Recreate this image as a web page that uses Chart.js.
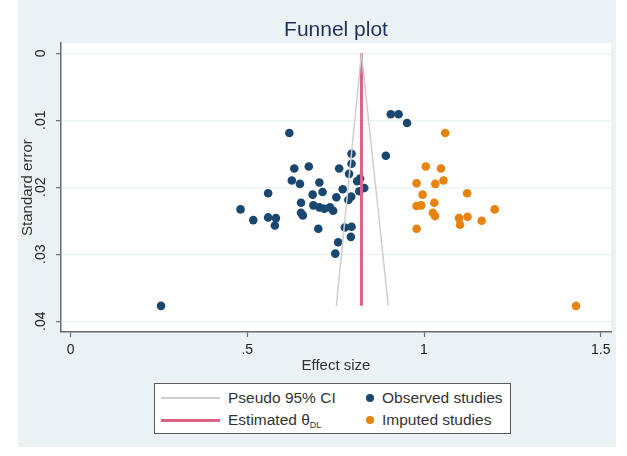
<!DOCTYPE html>
<html>
<head>
<meta charset="utf-8">
<script src="https://cdn.jsdelivr.net/npm/chart.js@4.4.1/dist/chart.umd.min.js"></script>
<style>
body { margin: 0; background: #fff; }
#wrap { position: relative; width: 627px; height: 456px; }
#bg { position: absolute; left: 18px; top: 0; width: 598px; height: 447px; background: #eaf2f3; }
#funnelChart { position: absolute; left: 0; top: 0; }
#legend {
    position: absolute; left: 154px; top: 383px; width: 357px; height: 51px;
    box-sizing: border-box; background: #fff; border: 1.5px solid #5a5a5a;
    font: 15.5px "Liberation Sans", Arial, sans-serif; color: #333;
}
.mark-line { position: absolute; left: 6px; width: 59px; }
.mark-dot { position: absolute; width: 8px; height: 8px; border-radius: 50%; }
.txt { position: absolute; white-space: nowrap; line-height: 18px; }
sub { font-size: 9px; vertical-align: -3px; line-height: 0; }
</style>
</head>
<body>
<div id="wrap">
    <div id="bg"></div>
    <canvas id="funnelChart" width="627" height="456"></canvas>
    <div id="legend">
        <div class="mark-line" style="top:13px;height:2px;background:#cfcfcf"></div>
        <div class="txt" style="left:73px;top:5px">Pseudo 95% CI</div>
        <div class="mark-line" style="top:35px;height:2.5px;background:#dc6384"></div>
        <div class="txt" style="left:73px;top:27px">Estimated θ<sub>DL</sub></div>
        <div class="mark-dot" style="left:211px;top:10px;background:#1a476f"></div>
        <div class="txt" style="left:227px;top:5px">Observed studies</div>
        <div class="mark-dot" style="left:211px;top:32px;background:#e8830f"></div>
        <div class="txt" style="left:227px;top:27px">Imputed studies</div>
    </div>
</div>
<script>
// values
const observedEffect = [0.619, 0.633, 0.674, 0.626, 0.649, 0.559, 0.652, 0.481, 0.517, 0.559, 0.581, 0.578, 0.652, 0.657,
    0.906, 0.928, 0.952, 0.892, 0.795, 0.795, 0.760, 0.788, 0.819, 0.811, 0.831, 0.817, 0.704, 0.713, 0.685, 0.770,
    0.752, 0.794, 0.786, 0.687, 0.704, 0.718, 0.734, 0.743, 0.701, 0.776, 0.795, 0.793, 0.757, 0.749, 0.256];
const observedSE = [0.0119, 0.0172, 0.0169, 0.0190, 0.0195, 0.0209, 0.0223, 0.0233, 0.0249, 0.0245, 0.0246, 0.0257, 0.0238, 0.0242,
    0.0091, 0.0091, 0.0104, 0.0153, 0.0150, 0.0165, 0.0172, 0.0180, 0.0187, 0.0191, 0.0201, 0.0206, 0.0193, 0.0207, 0.0211, 0.0203,
    0.0215, 0.0214, 0.0219, 0.0227, 0.0230, 0.0232, 0.0230, 0.0235, 0.0262, 0.0260, 0.0259, 0.0274, 0.0282, 0.0299, 0.0377];

const imputedEffect = [1.060, 1.005, 1.048, 1.055, 1.032, 0.979, 0.996, 1.122, 0.979, 0.992, 1.029, 1.025, 1.031, 1.200,
    1.099, 1.123, 1.102, 1.163, 0.979, 1.430];
const imputedSE = [0.0119, 0.0169, 0.0172, 0.0190, 0.0195, 0.0194, 0.0211, 0.0209, 0.0228, 0.0227, 0.0223, 0.0238, 0.0243, 0.0233,
    0.0246, 0.0244, 0.0256, 0.0250, 0.0262, 0.0377];

// funnel: apex and bottom ends
const lineSE = [0, 0.0377];
const thetaEffect = [0.823, 0.823];
const ciLowEffect = [0.823, 0.752];
const ciHighEffect = [0.823, 0.899];

const xTicks = [0, 0.5, 1, 1.5];
const xTickLabels = ['0', '.5', '1', '1.5'];
const yTicks = [0, 0.01, 0.02, 0.03, 0.04];
const yTickLabels = ['0', '.01', '.02', '.03', '.04'];

const toPoints = (xs, ys) => xs.map((x, i) => ({x: x, y: ys[i]}));

const plotBackground = {
    id: 'plotBackground',
    beforeDraw(chart) {
        const {ctx, chartArea} = chart;
        ctx.save();
        ctx.fillStyle = '#fff';
        ctx.fillRect(chartArea.left, chartArea.top, chartArea.right - chartArea.left, chartArea.bottom - chartArea.top);
        ctx.restore();
    }
};

const axisColor = '#6b6b6b';
Chart.defaults.font.family = '"Liberation Sans", Arial, sans-serif';

const funnelChart = new Chart(document.getElementById('funnelChart'), {
    type: 'scatter',
    data: {
        datasets: [
            {
                label: 'Pseudo 95% CI',
                data: toPoints(ciLowEffect, lineSE),
                showLine: true, borderColor: '#cfcfcf', borderWidth: 1.5, pointRadius: 0, order: 0
            },
            {
                label: 'Pseudo 95% CI',
                data: toPoints(ciHighEffect, lineSE),
                showLine: true, borderColor: '#cfcfcf', borderWidth: 1.5, pointRadius: 0, order: 0
            },
            {
                label: 'Estimated θDL',
                data: toPoints(thetaEffect, lineSE),
                showLine: true, borderColor: '#dc6384', borderWidth: 3, pointRadius: 0, order: 0
            },
            {
                label: 'Observed studies',
                data: toPoints(observedEffect, observedSE),
                backgroundColor: '#1a476f', borderWidth: 0, pointRadius: 4.3, order: 1
            },
            {
                label: 'Imputed studies',
                data: toPoints(imputedEffect, imputedSE),
                backgroundColor: '#e8830f', borderWidth: 0, pointRadius: 4.3, order: 1
            }
        ]
    },
    options: {
        responsive: false,
        animation: false,
        layout: {padding: {left: 18, right: 16, top: 0, bottom: 81}},
        plugins: {
            legend: {display: false},
            tooltip: {enabled: false},
            title: {
                display: true,
                text: 'Funnel plot',
                fullSize: false,
                color: '#1f2f5c',
                font: {size: 21, weight: 'normal'},
                padding: {top: 18, bottom: 0}
            }
        },
        scales: {
            x: {
                type: 'linear',
                min: -0.027,
                max: 1.529,
                afterBuildTicks: (scale) => { scale.ticks = xTicks.map(v => ({value: v})); },
                afterFit: (scale) => { scale.height = 43; },
                grid: {drawOnChartArea: false, tickLength: 5, tickColor: axisColor, tickWidth: 1.2},
                border: {color: axisColor, width: 1.5},
                ticks: {
                    callback: (v, i) => xTickLabels[i],
                    font: {size: 14}, color: '#222', padding: 5, maxRotation: 0
                },
                title: {display: true, text: 'Effect size', font: {size: 15}, color: '#333', padding: {top: 0, bottom: 0}}
            },
            y: {
                type: 'linear',
                reverse: true,
                min: -0.0015,
                max: 0.0416,
                afterBuildTicks: (scale) => { scale.ticks = yTicks.map(v => ({value: v})); },
                afterFit: (scale) => { scale.width = 43; },
                grid: {color: '#eaf2f3', lineWidth: 1.3, tickLength: 5, tickColor: axisColor, tickWidth: 1.2},
                border: {color: axisColor, width: 1.5},
                ticks: {
                    callback: (v, i) => yTickLabels[i],
                    minRotation: 90, maxRotation: 90, crossAlign: 'center',
                    font: {size: 14}, color: '#222', padding: 5
                },
                title: {display: true, text: 'Standard error', font: {size: 15}, color: '#333', padding: {top: 1, bottom: 0}}
            }
        }
    },
    plugins: [plotBackground]
});
</script>
</body>
</html>
